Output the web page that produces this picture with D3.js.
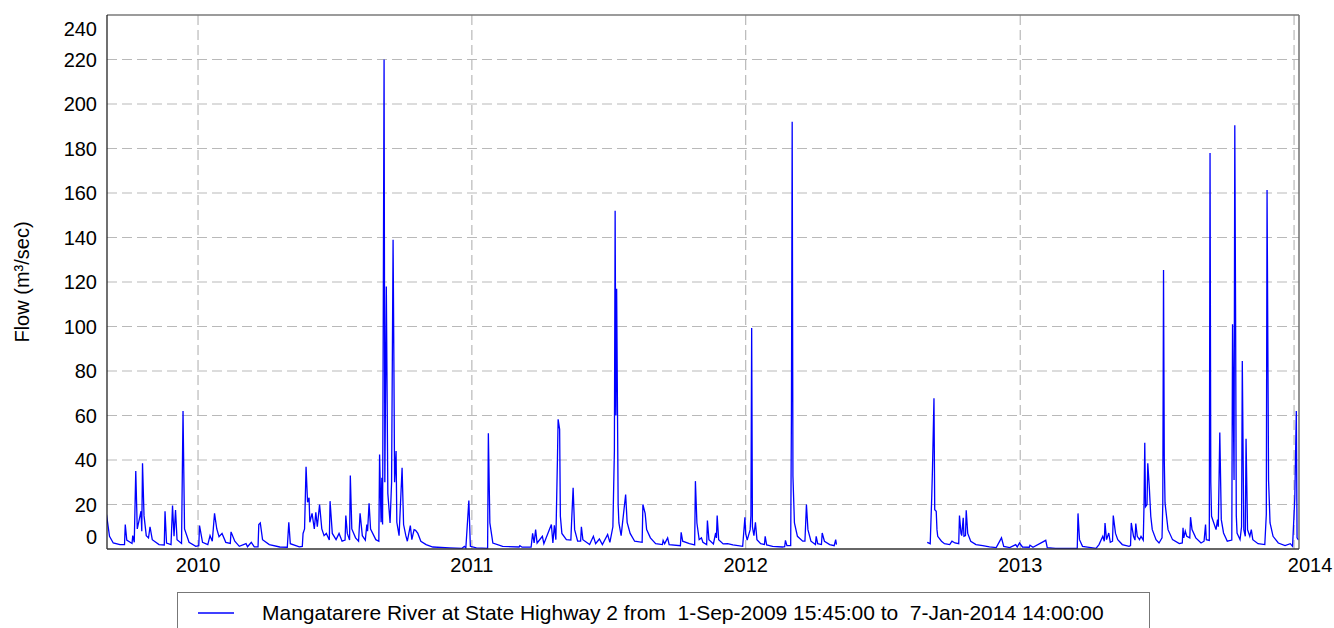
<!DOCTYPE html>
<html>
<head>
<meta charset="utf-8">
<script src="https://cdn.jsdelivr.net/npm/d3@7"></script>
<style>
  body { margin: 0; background: #fff; }
  text { font-family: "Liberation Sans", Arial, sans-serif; fill: #000; }
  .grid line { stroke: #b9b9b9; stroke-width: 1.2; stroke-dasharray: 10,5; }
  .flow { fill: none; stroke: #0000ff; stroke-width: 1.3; }
</style>
</head>
<body>
<svg id="chart" width="1334" height="628"></svg>
<script>

// flow readings (m3/sec)
const flow2009 = [
  ["2009-09-01", 15.5], ["2009-09-05", 5.7], ["2009-09-10", 2.7], ["2009-09-19", 2], ["2009-09-25", 2],
  ["2009-09-26", 11], ["2009-09-28", 4], ["2009-10-05", 2.5], ["2009-10-06", 6], ["2009-10-08", 3],
  ["2009-10-10", 35], ["2009-10-12", 9], ["2009-10-17", 17], ["2009-10-18", 8], ["2009-10-19", 38.5],
  ["2009-10-21", 15], ["2009-10-24", 6], ["2009-10-27", 5], ["2009-10-29", 10], ["2009-11-01", 4.2],
  ["2009-11-10", 2], ["2009-11-17", 1.8], ["2009-11-18", 17], ["2009-11-20", 2.7], ["2009-11-26", 2],
  ["2009-11-28", 19.5], ["2009-11-30", 5.7], ["2009-12-02", 17.5], ["2009-12-04", 4.2], ["2009-12-10", 2.5],
  ["2009-12-12", 62], ["2009-12-14", 9], ["2009-12-20", 3], ["2009-12-29", 1.2]
];

const flow2010 = [
  ["2010-01-02", 1.5], ["2010-01-03", 10.5], ["2010-01-07", 3], ["2010-01-14", 2], ["2010-01-17", 6],
  ["2010-01-20", 3.5], ["2010-01-23", 16], ["2010-01-26", 9], ["2010-01-29", 5.5], ["2010-02-02", 7],
  ["2010-02-07", 3], ["2010-02-13", 2.5], ["2010-02-14", 7.7], ["2010-02-19", 3.5], ["2010-02-25", 1.2],
  ["2010-03-06", 2.4], ["2010-03-08", 1], ["2010-03-13", 3], ["2010-03-17", 1], ["2010-03-22", 1],
  ["2010-03-23", 11], ["2010-03-25", 11.7], ["2010-03-28", 4.2], ["2010-04-06", 2], ["2010-04-20", 0.9],
  ["2010-04-30", 0.8], ["2010-05-02", 12], ["2010-05-04", 2.4], ["2010-05-16", 1], ["2010-05-20", 1.2],
  ["2010-05-21", 7], ["2010-05-23", 9], ["2010-05-25", 37], ["2010-05-27", 21], ["2010-05-29", 23],
  ["2010-05-30", 12], ["2010-06-02", 16], ["2010-06-05", 9], ["2010-06-07", 16.5], ["2010-06-09", 10],
  ["2010-06-12", 20], ["2010-06-15", 9], ["2010-06-18", 6], ["2010-06-21", 7], ["2010-06-25", 4],
  ["2010-06-26", 21.5], ["2010-06-29", 7], ["2010-07-04", 4.2], ["2010-07-08", 7], ["2010-07-12", 3.5],
  ["2010-07-16", 4], ["2010-07-17", 15], ["2010-07-19", 7], ["2010-07-22", 4], ["2010-07-23", 33],
  ["2010-07-25", 9], ["2010-07-30", 5], ["2010-08-03", 3.5], ["2010-08-05", 16], ["2010-08-08", 6],
  ["2010-08-12", 4], ["2010-08-14", 11], ["2010-08-15", 8], ["2010-08-17", 20.5], ["2010-08-19", 9],
  ["2010-08-26", 4.2], ["2010-08-30", 3.5], ["2010-08-31", 42.5], ["2010-09-02", 12], ["2010-09-03", 32],
  ["2010-09-04", 11], ["2010-09-06", 220], ["2010-09-07", 30], ["2010-09-09", 118], ["2010-09-11", 25],
  ["2010-09-14", 11.7], ["2010-09-16", 30], ["2010-09-18", 139], ["2010-09-19", 88], ["2010-09-20", 30],
  ["2010-09-22", 44], ["2010-09-23", 12], ["2010-09-26", 6], ["2010-09-30", 36.5], ["2010-10-02", 11],
  ["2010-10-05", 6], ["2010-10-07", 3.5], ["2010-10-11", 10.5], ["2010-10-13", 4.2], ["2010-10-16", 8.7],
  ["2010-10-18", 8.4], ["2010-10-21", 7], ["2010-10-25", 3.5], ["2010-11-01", 2], ["2010-11-10", 0.9],
  ["2010-12-02", 0.5], ["2010-12-19", 0.3], ["2010-12-22", 1.2], ["2010-12-24", 0.4], ["2010-12-28", 21.8],
  ["2010-12-30", 1.2]
];

const flow2011 = [
  ["2011-01-07", 0.5], ["2011-01-22", 0.3], ["2011-01-23", 52], ["2011-01-25", 11.7], ["2011-01-29", 2.7],
  ["2011-02-11", 1.2], ["2011-03-05", 0.9], ["2011-03-06", 1.5], ["2011-03-09", 0.8], ["2011-03-21", 0.8],
  ["2011-03-23", 7], ["2011-03-25", 2.7], ["2011-03-27", 8.7], ["2011-03-29", 2.7], ["2011-04-05", 5.7],
  ["2011-04-07", 2.4], ["2011-04-17", 11], ["2011-04-19", 2.7], ["2011-04-21", 10.7], ["2011-04-23", 4.2],
  ["2011-04-25", 38.8], ["2011-04-26", 58.3], ["2011-04-28", 53.8], ["2011-04-29", 14.7], ["2011-05-01", 7],
  ["2011-05-07", 4.2], ["2011-05-13", 4], ["2011-05-14", 12.5], ["2011-05-16", 27.5], ["2011-05-18", 8.7],
  ["2011-05-22", 3.5], ["2011-05-26", 3.5], ["2011-05-27", 10], ["2011-05-29", 4.2], ["2011-06-07", 2],
  ["2011-06-12", 5.7], ["2011-06-15", 2.4], ["2011-06-20", 4.5], ["2011-06-24", 2], ["2011-07-01", 6.5],
  ["2011-07-04", 3], ["2011-07-08", 10], ["2011-07-10", 44], ["2011-07-11", 152], ["2011-07-12", 60],
  ["2011-07-13", 117], ["2011-07-15", 20], ["2011-07-16", 11.7], ["2011-07-19", 6], ["2011-07-25", 24.5],
  ["2011-07-27", 12], ["2011-07-31", 7], ["2011-08-06", 3.5], ["2011-08-16", 3], ["2011-08-17", 20],
  ["2011-08-20", 16], ["2011-08-22", 8.7], ["2011-08-27", 5], ["2011-09-03", 2.4], ["2011-09-12", 2],
  ["2011-09-13", 3.9], ["2011-09-15", 2.4], ["2011-09-19", 5], ["2011-09-21", 2], ["2011-10-06", 1.5],
  ["2011-10-07", 7.5], ["2011-10-09", 3.5], ["2011-10-18", 2.4], ["2011-10-25", 1.8], ["2011-10-26", 30.5],
  ["2011-10-28", 11.7], ["2011-10-31", 4.2], ["2011-11-03", 5], ["2011-11-05", 3], ["2011-11-10", 2],
  ["2011-11-11", 12.8], ["2011-11-13", 4.2], ["2011-11-19", 2.3], ["2011-11-22", 7.2], ["2011-11-23", 5],
  ["2011-11-24", 15], ["2011-11-26", 4.2], ["2011-12-02", 2.3], ["2011-12-08", 2.4], ["2011-12-15", 1.9],
  ["2011-12-28", 1.2], ["2011-12-31", 14.3]
];

// null marks the gap in the record (May - Aug 2012)
const flow2012 = [
  ["2012-01-01", 7], ["2012-01-03", 4], ["2012-01-07", 8.7], ["2012-01-08", 15], ["2012-01-09", 99.3],
  ["2012-01-10", 10], ["2012-01-12", 6], ["2012-01-14", 12], ["2012-01-16", 4.2], ["2012-01-21", 2.4],
  ["2012-01-26", 2], ["2012-01-27", 5.7], ["2012-01-29", 1.8], ["2012-02-06", 1.2], ["2012-02-19", 0.9],
  ["2012-02-22", 1], ["2012-02-23", 3.9], ["2012-02-25", 1.5], ["2012-03-01", 1.5], ["2012-03-02", 60],
  ["2012-03-03", 192], ["2012-03-04", 32.8], ["2012-03-06", 11.7], ["2012-03-10", 5.7], ["2012-03-17", 3.5],
  ["2012-03-20", 3.5], ["2012-03-22", 20], ["2012-03-24", 8.7], ["2012-03-28", 3.5], ["2012-04-03", 2],
  ["2012-04-04", 5.7], ["2012-04-06", 2.4], ["2012-04-11", 2], ["2012-04-12", 7.2], ["2012-04-15", 3.5],
  ["2012-04-22", 2], ["2012-04-28", 1.5], ["2012-04-30", 4.2], ["2012-05-01", 2],
  ["2012-06-15", null],
  ["2012-08-30", 3], ["2012-09-03", 2.4], ["2012-09-05", 23], ["2012-09-06", 35.8], ["2012-09-08", 67.7],
  ["2012-09-09", 17.7], ["2012-09-11", 17], ["2012-09-12", 8.7], ["2012-09-13", 5.7], ["2012-09-18", 3.5],
  ["2012-09-22", 2.4], ["2012-09-29", 2], ["2012-10-02", 3.5], ["2012-10-06", 2.7], ["2012-10-11", 2.4],
  ["2012-10-12", 15], ["2012-10-14", 7], ["2012-10-15", 6], ["2012-10-17", 14], ["2012-10-18", 5.7],
  ["2012-10-20", 6], ["2012-10-21", 17.4], ["2012-10-23", 7], ["2012-10-27", 3.5], ["2012-11-03", 2],
  ["2012-11-12", 1.5], ["2012-11-21", 1], ["2012-11-30", 0.6], ["2012-12-07", 5], ["2012-12-10", 1.2],
  ["2012-12-18", 0.6], ["2012-12-26", 2], ["2012-12-28", 0.9], ["2012-12-31", 2.7]
];

const flow2013 = [
  ["2013-01-04", 0.9], ["2013-01-13", 0.8], ["2013-01-14", 1.7], ["2013-01-18", 0.8], ["2013-02-04", 3.9],
  ["2013-02-06", 0.6], ["2013-02-17", 0.3], ["2013-03-18", 0.3], ["2013-03-19", 16], ["2013-03-21", 4.2],
  ["2013-03-25", 1.2], ["2013-04-12", 0.3], ["2013-04-16", 2], ["2013-04-21", 5.7], ["2013-04-23", 3.5],
  ["2013-04-24", 11.7], ["2013-04-26", 4.2], ["2013-04-29", 7.2], ["2013-05-01", 3], ["2013-05-04", 3.5],
  ["2013-05-05", 15], ["2013-05-08", 7], ["2013-05-11", 4.2], ["2013-05-17", 2], ["2013-05-26", 1.2],
  ["2013-05-28", 1.5], ["2013-05-29", 11.7], ["2013-06-01", 5.7], ["2013-06-03", 4], ["2013-06-04", 11.4],
  ["2013-06-06", 5.7], ["2013-06-09", 4.2], ["2013-06-11", 5.7], ["2013-06-14", 4], ["2013-06-15", 20],
  ["2013-06-16", 47.8], ["2013-06-17", 19], ["2013-06-19", 20], ["2013-06-20", 38.5], ["2013-06-22", 28],
  ["2013-06-24", 14.7], ["2013-06-26", 8.7], ["2013-07-01", 4.2], ["2013-07-05", 2.7], ["2013-07-09", 5],
  ["2013-07-10", 20], ["2013-07-11", 125.4], ["2013-07-12", 40], ["2013-07-13", 20.7], ["2013-07-17", 8.7],
  ["2013-07-23", 4.2], ["2013-08-01", 2.4], ["2013-08-05", 2.7], ["2013-08-06", 9.5], ["2013-08-07", 5],
  ["2013-08-09", 8], ["2013-08-11", 5.7], ["2013-08-15", 5], ["2013-08-16", 14.3], ["2013-08-18", 8.7],
  ["2013-08-23", 5], ["2013-08-30", 2.7], ["2013-09-03", 3.5], ["2013-09-05", 11], ["2013-09-06", 4.2],
  ["2013-09-10", 3.9], ["2013-09-11", 178], ["2013-09-12", 30], ["2013-09-13", 14.7], ["2013-09-19", 8.7],
  ["2013-09-21", 13.2], ["2013-09-22", 10], ["2013-09-24", 52.3], ["2013-09-26", 13.2], ["2013-09-29", 7.2],
  ["2013-10-04", 3.5], ["2013-10-10", 4], ["2013-10-11", 101], ["2013-10-13", 31], ["2013-10-14", 190.5],
  ["2013-10-15", 110], ["2013-10-16", 15], ["2013-10-17", 7.2], ["2013-10-21", 4.2], ["2013-10-23", 10],
  ["2013-10-24", 84.5], ["2013-10-26", 8.7], ["2013-10-28", 5.7], ["2013-10-29", 49.6], ["2013-10-31", 8.7],
  ["2013-11-03", 5.7], ["2013-11-05", 8.7], ["2013-11-07", 4.2], ["2013-11-14", 2.4], ["2013-11-23", 2],
  ["2013-11-25", 15.5], ["2013-11-26", 161.3], ["2013-11-28", 31], ["2013-11-30", 11.7], ["2013-12-04", 5.7],
  ["2013-12-11", 2.7], ["2013-12-20", 1.5], ["2013-12-27", 2.4], ["2013-12-30", 1.2]
];

const flow2014 = [
  ["2014-01-02", 23], ["2014-01-04", 62], ["2014-01-05", 5], ["2014-01-07", 4]
];

const yTicks = [0, 20, 40, 60, 80, 100, 120, 140, 160, 180, 200, 220, 240];
const yearTicks = ["2010", "2011", "2012", "2013", "2014"];

const legendLabel = "Mangatarere River at State Highway 2 from  1-Sep-2009 15:45:00 to  7-Jan-2014 14:00:00";
const yLabel = "Flow (m\u00b3/sec)";

const parseDay = d3.utcParse("%Y-%m-%d");
const data = [].concat(flow2009, flow2010, flow2011, flow2012, flow2013, flow2014)
  .map(d => ({ date: parseDay(d[0]), value: d[1] }));

const svg = d3.select("#chart");
const plotLeft = 107, plotRight = 1299, plotTop = 15, plotBottom = 549;

const xScale = d3.scaleUtc()
  .domain([Date.UTC(2009, 8, 1, 15, 45), Date.UTC(2014, 0, 7, 14, 0)])
  .range([plotLeft, plotRight]);
const yScale = d3.scaleLinear().domain([0, 240]).range([plotBottom, plotTop]);

// grid
const grid = svg.append("g").attr("class", "grid");
grid.selectAll(".hg")
  .data(yTicks.filter(t => t > 0 && t < 240))
  .enter().append("line")
  .attr("x1", plotLeft).attr("x2", plotRight)
  .attr("y1", d => yScale(d)).attr("y2", d => yScale(d));
grid.selectAll(".vg")
  .data(yearTicks)
  .enter().append("line")
  .attr("x1", d => xScale(Date.UTC(+d, 0, 1))).attr("x2", d => xScale(Date.UTC(+d, 0, 1)))
  .attr("y1", plotTop).attr("y2", plotBottom);

// flow line
svg.append("clipPath").attr("id", "clip")
  .append("rect").attr("x", plotLeft).attr("y", plotTop)
  .attr("width", plotRight - plotLeft).attr("height", plotBottom - plotTop);

const line = d3.line()
  .defined(d => d.value !== null)
  .x(d => xScale(d.date))
  .y(d => yScale(d.value));

svg.append("path")
  .datum(data)
  .attr("class", "flow")
  .attr("clip-path", "url(#clip)")
  .attr("d", line);

// frame: dark left/bottom, grey top/right
svg.append("line").attr("x1", plotLeft).attr("x2", plotRight).attr("y1", plotTop).attr("y2", plotTop)
  .attr("stroke", "#7a7a7a").attr("stroke-width", 1.6);
svg.append("line").attr("x1", plotRight).attr("x2", plotRight).attr("y1", plotTop).attr("y2", plotBottom)
  .attr("stroke", "#7a7a7a").attr("stroke-width", 1.6);
svg.append("line").attr("x1", plotLeft).attr("x2", plotLeft).attr("y1", plotTop).attr("y2", plotBottom)
  .attr("stroke", "#111").attr("stroke-width", 1.2);
svg.append("line").attr("x1", plotLeft).attr("x2", plotRight).attr("y1", plotBottom).attr("y2", plotBottom)
  .attr("stroke", "#333").attr("stroke-width", 1.4);

// y tick labels (end labels pulled inside the frame)
svg.selectAll(".ylab")
  .data(yTicks)
  .enter().append("text")
  .attr("x", 97)
  .attr("y", d => yScale(d) + (d === 0 ? -12 : d === 240 ? 14 : 0))
  .attr("dy", "0.35em")
  .attr("text-anchor", "end")
  .style("font-size", "20px")
  .text(d => d);

// x tick labels (last one pushed right, clipped by the page edge)
svg.selectAll(".xlab")
  .data(yearTicks)
  .enter().append("text")
  .attr("x", d => xScale(Date.UTC(+d, 0, 1)) + (d === "2014" ? 16 : 0))
  .attr("y", 565)
  .attr("dy", "0.35em")
  .attr("text-anchor", "middle")
  .style("font-size", "20px")
  .text(d => d);

svg.append("text")
  .attr("transform", "translate(22,282) rotate(-90)")
  .attr("text-anchor", "middle")
  .attr("dy", "0.35em")
  .style("font-size", "20px")
  .text(yLabel);

// legend
svg.append("rect")
  .attr("x", 177.5).attr("y", 592.5).attr("width", 972).attr("height", 50)
  .attr("fill", "#fff").attr("stroke", "#777").attr("stroke-width", 1);
svg.append("line")
  .attr("x1", 198).attr("x2", 234).attr("y1", 613).attr("y2", 613)
  .attr("stroke", "#0000ff").attr("stroke-width", 1.3);
svg.append("text")
  .attr("x", 262).attr("y", 613).attr("dy", "0.35em")
  .style("font-size", "21px")
  .style("white-space", "pre")
  .text(legendLabel);

</script>
</body>
</html>
